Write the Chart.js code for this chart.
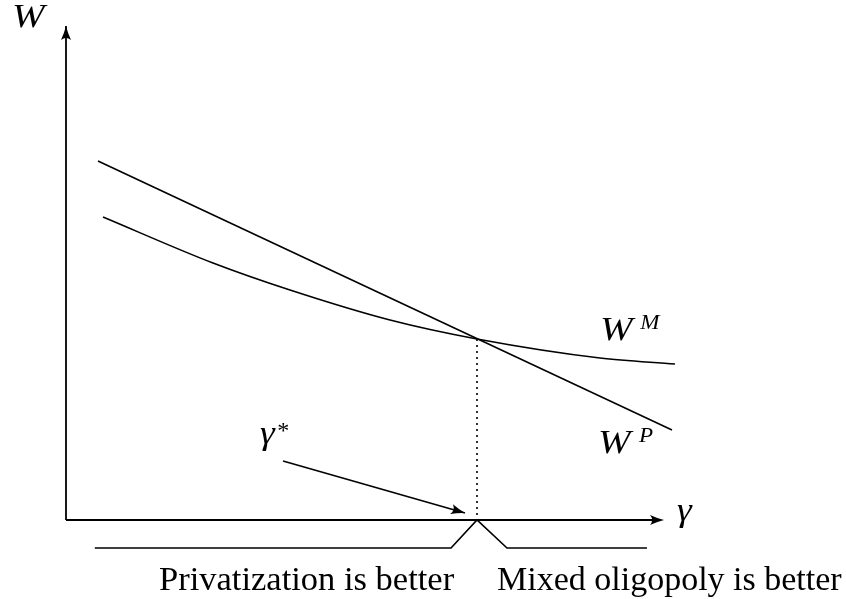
<!DOCTYPE html>
<html><head><meta charset="utf-8">
<script src="https://cdn.jsdelivr.net/npm/chart.js@4"></script>
<style>html,body{margin:0;padding:0;background:#fff}#wrap{width:846px;height:599px;position:relative}</style>
</head><body><div id="wrap"><canvas id="c"></canvas></div>
<script>
// Data (gamma on x, welfare W on y)
const wpGamma = [0.533, 10.1];
const wpValues = [5.983, 1.5];
const wmGamma = [0.617, 2.45, 3.733, 5.4, 6.85, 8.9, 10.15];
const wmValues = [5.05, 4.283, 3.833, 3.333, 3.017, 2.7, 2.6];
const gammaStar = 6.85;
const welfareAtStar = 3.017;
const axisXEnd = [0, 9.967];
const axisYEnd = [0, 8.233];
const bracketX = [0.48, 6.417, 6.85, 7.35, 9.683];
const bracketY = [-0.467, -0.467, 0, -0.467, -0.467];
const pointerX = [3.617, 6.65];
const pointerY = [0.983, 0.117];

const zip = (xs, ys) => xs.map((x, i) => ({x, y: ys[i]}));

const labels = [
  {t: 'W', x: -0.9, y: 8.217, f: 'italic 34px "Liberation Serif"', sx: 1.15},
  {t: 'W', x: 8.9, y: 3.0, f: 'italic 34px "Liberation Serif"', sx: 1.15},
  {t: 'M', x: 9.57, y: 3.183, f: 'italic 22px "Liberation Serif"', sx: 1.05},
  {t: 'W', x: 8.867, y: 1.117, f: 'italic 34px "Liberation Serif"', sx: 1.15},
  {t: 'P', x: 9.55, y: 1.3, f: 'italic 22px "Liberation Serif"', sx: 1.05},
  {t: 'γ', x: 3.233, y: 1.267, f: 'italic 34px "Liberation Serif"', sx: 1.1},
  {t: '*', x: 3.52, y: 1.37, f: '24px "Liberation Serif"', sx: 1},
  {t: 'γ', x: 10.183, y: -0.017, f: 'italic 34px "Liberation Serif"', sx: 1.1},
  {t: 'Privatization is better', x: 1.55, y: -1.167, f: '34px "Liberation Serif"', sx: 1.015},
  {t: 'Mixed oligopoly is better', x: 7.183, y: -1.167, f: '34px "Liberation Serif"', sx: 1}
];

const line = (data, extra) => Object.assign({
  data, showLine: true, borderColor: '#000', borderWidth: 1.6,
  pointRadius: 0, fill: false, tension: 0
}, extra || {});

const arrowPlugin = {
  id: 'arrowsAndText',
  afterDatasetsDraw(chart) {
    const ctx = chart.ctx, xs = chart.scales.x, ys = chart.scales.y;
    const head = (x0, y0, x1, y1, len, hw) => {
      const px0 = xs.getPixelForValue(x0), py0 = ys.getPixelForValue(y0);
      const px1 = xs.getPixelForValue(x1), py1 = ys.getPixelForValue(y1);
      const a = Math.atan2(py1 - py0, px1 - px0);
      ctx.save();
      ctx.translate(px1, py1); ctx.rotate(a);
      ctx.beginPath();
      ctx.moveTo(0, 0);
      ctx.quadraticCurveTo(-len * 0.5, -hw * 0.35, -len, -hw);
      ctx.quadraticCurveTo(-len * 0.7, 0, -len, hw);
      ctx.quadraticCurveTo(-len * 0.5, hw * 0.35, 0, 0);
      ctx.closePath();
      ctx.fillStyle = '#000'; ctx.fill();
      ctx.restore();
    };
    head(axisXEnd[0], 0, axisXEnd[1], 0, 14, 5);
    head(0, axisYEnd[0], 0, axisYEnd[1], 14, 5);
    head(pointerX[0], pointerY[0], pointerX[1], pointerY[1], 14, 5);
    ctx.save();
    ctx.fillStyle = '#000'; ctx.textBaseline = 'alphabetic'; ctx.textAlign = 'left';
    labels.forEach(l => {
      ctx.save();
      ctx.font = l.f;
      ctx.translate(xs.getPixelForValue(l.x), ys.getPixelForValue(l.y));
      ctx.scale(l.sx, 1);
      ctx.fillText(l.t, 0, 0);
      ctx.restore();
    });
    ctx.restore();
  }
};

new Chart(document.getElementById('c'), {
  type: 'scatter',
  data: {
    datasets: [
      line(zip(wpGamma, wpValues)),
      line(zip(wmGamma, wmValues), {cubicInterpolationMode: 'monotone'}),
      line([{x: gammaStar, y: welfareAtStar}, {x: gammaStar, y: 0}], {borderDash: [2, 4], borderWidth: 1.6}),
      line(axisYEnd.map(v => ({x: 0, y: v})), {borderWidth: 1.8}),
      line([{x: axisXEnd[0], y: 0}, {x: axisXEnd[1] - 0.1, y: 0}], {borderWidth: 1.8}),
      line(zip(bracketX, bracketY)),
      line(zip(pointerX, pointerY))
    ]
  },
  options: {
    responsive: true, maintainAspectRatio: false, animation: false,
    layout: {padding: 0},
    plugins: {legend: {display: false}, tooltip: {enabled: false}},
    scales: {
      x: {type: 'linear', min: -1.1, max: 13.0, display: false},
      y: {type: 'linear', min: -1.316667, max: 8.666667, display: false}
    }
  },
  plugins: [arrowPlugin]
});
</script>
</body></html>
